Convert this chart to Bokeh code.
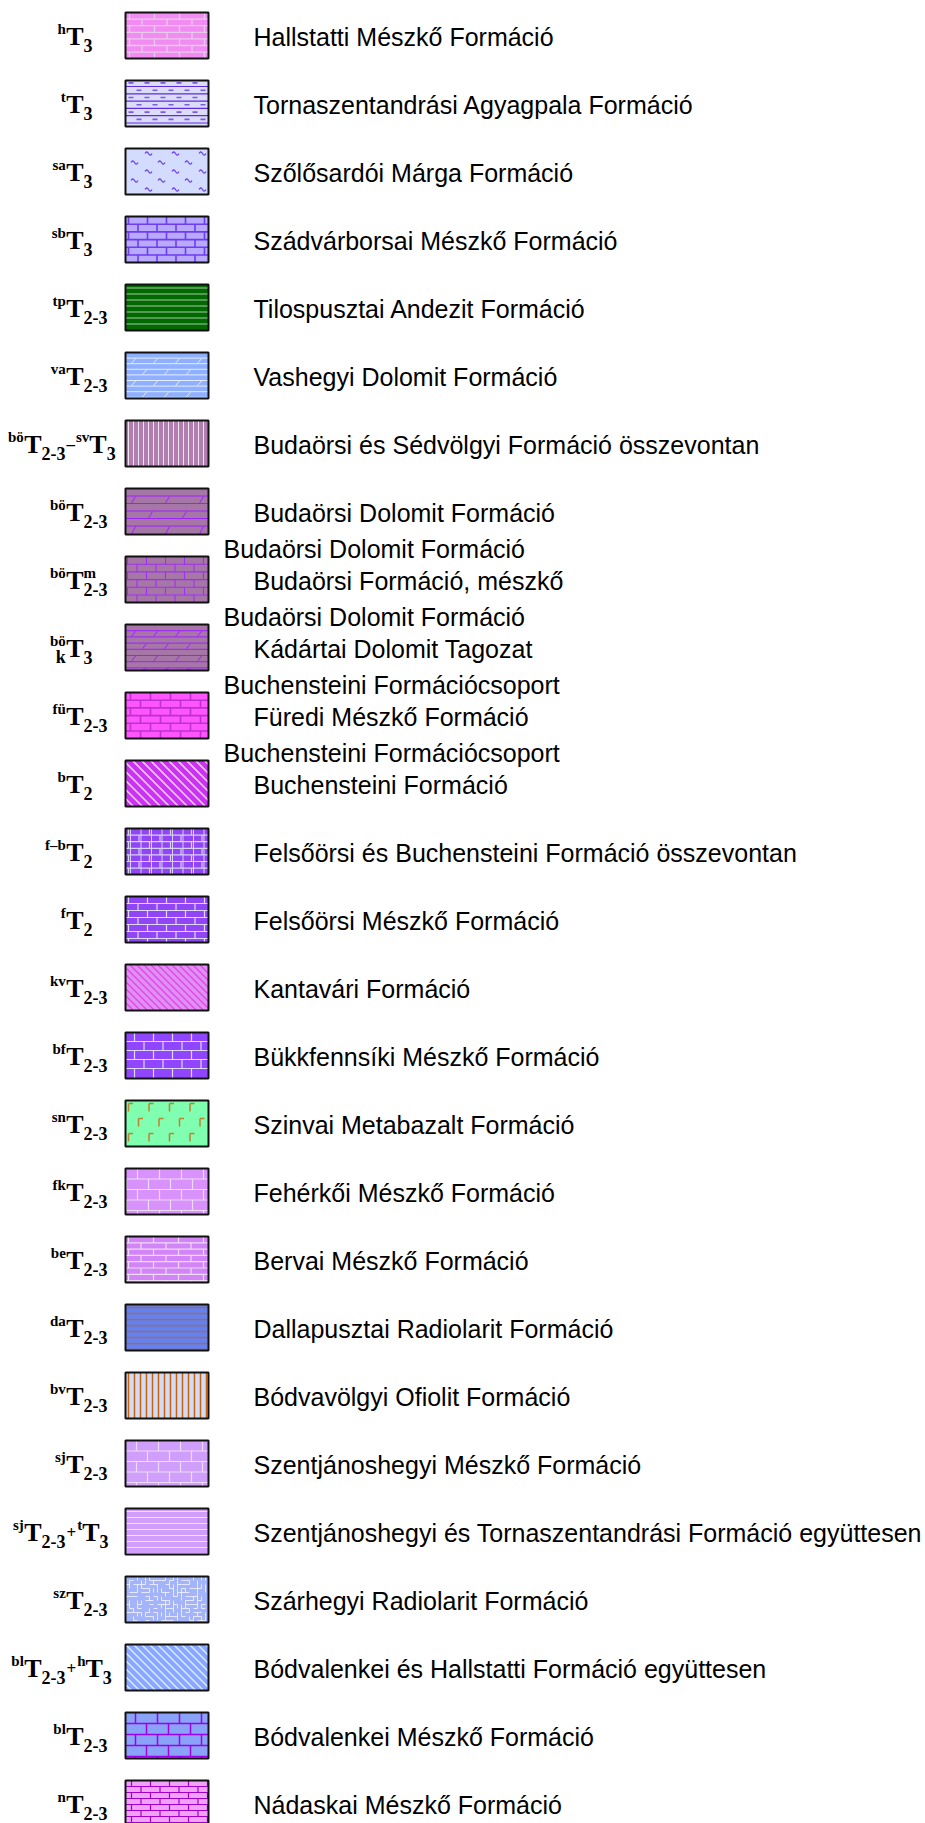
import math
from bokeh.plotting import figure
from bokeh.models import Range1d, ColumnDataSource
from bokeh.embed import file_html
from bokeh.resources import INLINE
from bokeh.core.properties import value

# ---------------- data ----------------
formation_names = [
    "Hallstatti Mészkő Formáció",
    "Tornaszentandrási Agyagpala Formáció",
    "Szőlősardói Márga Formáció",
    "Szádvárborsai Mészkő Formáció",
    "Tilospusztai Andezit Formáció",
    "Vashegyi Dolomit Formáció",
    "Budaörsi és Sédvölgyi Formáció összevontan",
    "Budaörsi Dolomit Formáció",
    "Budaörsi Formáció, mészkő",
    "Kádártai Dolomit Tagozat",
    "Füredi Mészkő Formáció",
    "Buchensteini Formáció",
    "Felsőörsi és Buchensteini Formáció összevontan",
    "Felsőörsi Mészkő Formáció",
    "Kantavári Formáció",
    "Bükkfennsíki Mészkő Formáció",
    "Szinvai Metabazalt Formáció",
    "Fehérkői Mészkő Formáció",
    "Bervai Mészkő Formáció",
    "Dallapusztai Radiolarit Formáció",
    "Bódvavölgyi Ofiolit Formáció",
    "Szentjánoshegyi Mészkő Formáció",
    "Szentjánoshegyi és Tornaszentandrási Formáció együttesen",
    "Szárhegyi Radiolarit Formáció",
    "Bódvalenkei és Hallstatti Formáció együttesen",
    "Bódvalenkei Mészkő Formáció",
    "Nádaskai Mészkő Formáció",
]

parent_units = [""] * 8 + [
    "Budaörsi Dolomit Formáció",
    "Budaörsi Dolomit Formáció",
    "Buchensteini Formációcsoport",
    "Buchensteini Formációcsoport",
] + [""] * 15

# symbol markup: blocks split by "|", stacked items by ",";  ^ sup, _ sub, ~ connector
symbols = [
    "^h|T|_3", "^t|T|_3", "^sa|T|_3", "^sb|T|_3",
    "^tp|T|_2-3", "^va|T|_2-3",
    "^bö|T|_2-3|~–|^sv|T|_3",
    "^bö|T|_2-3", "^bö|T|_2-3,^m", "^bö,_k|T|_3",
    "^fü|T|_2-3", "^b|T|_2", "^f–b|T|_2", "^f|T|_2",
    "^kv|T|_2-3", "^bf|T|_2-3", "^sn|T|_2-3", "^fk|T|_2-3",
    "^be|T|_2-3", "^da|T|_2-3", "^bv|T|_2-3", "^sj|T|_2-3",
    "^sj|T|_2-3|~+|^t|T|_3",
    "^sz|T|_2-3",
    "^bl|T|_2-3|~+|^h|T|_3",
    "^bl|T|_2-3", "^n|T|_2-3",
]

fill_colors = [
    "#f28cf2", "#dcdcfa", "#d3dcff", "#b9a9ff", "#006a00", "#8fb0ff",
    "#b07fb0", "#a676a6", "#a676a6", "#a676a6", "#ff55ff", "#cc33f0",
    "#9146f5", "#9146f5", "#e08ff2", "#9046ff", "#80ffb0", "#d991fb",
    "#d385f8", "#5f82f8", "#d1ddf8", "#d09efb", "#d09efb", "#a3b4fa",
    "#88a8ff", "#8aa2f8", "#f0a2f8",
]

pattern_kinds = [
    "brick", "shale", "marl", "rough_brick", "hline", "dolomite",
    "vline", "dolomite", "brick", "dolomite", "rough_brick", "diag",
    "brick_grid", "brick", "diag", "brick", "basalt", "brick",
    "brick", "hline", "vline", "brick", "hline", "crackle",
    "diag", "brick", "brick",
]

pattern_colors = [
    "#e6cbea", "#5a2ee0", "#6a3ae8", "#6d3df0", "#a8c8a8", "#e4ecff",
    "#f2e4f2", "#a020ff", "#a030f0", "#a020ff", "#c030d0", "#f0d0f8",
    "#d8d0f0", "#e0d8f8", "#e040e8", "#e0d8f8", "#c08030", "#ecdcf6",
    "#ecdcf6", "#b06a40", "#c8620c", "#ecdcf6", "#f0e0ff", "#eef0ff",
    "#e8eeff", "#a000e8", "#a000c8",
]

# ---------------- style / layout ----------------
pattern_style = {
    0: dict(row_h=6.6, bw=25, phase=4, lw=1.3),
    1: dict(step=7.3, lw=1.2),
    2: dict(lw=1.2),
    3: dict(row_h=7.7, bw=19, phase=3, lw=1.6),
    4: dict(step=6.0, start=3.5, lw=1.2),
    5: dict(row_h=5.6, tick=22, lw=1.0),
    6: dict(step=5.0, start=3, lw=1.0),
    7: dict(row_h=7.5, tick=34, lw=1.0),
    8: dict(row_h=7.7, bw=19, phase=2, lw=1.1),
    9: dict(row_h=6.2, tick=22, lw=1.0),
    10: dict(row_h=7.7, bw=20, phase=5, lw=1.6),
    11: dict(step=9.0, start=4, lw=1.6),
    12: dict(row_h=6.6, bw=21, phase=3, lw=1.2),
    13: dict(row_h=7.0, bw=19, phase=3, lw=1.2),
    14: dict(step=7.0, start=2, lw=1.1),
    15: dict(row_h=9.0, bw=19, phase=9, lw=1.2),
    16: dict(lw=1.5),
    17: dict(row_h=10.5, bw=22, phase=12, lw=1.2),
    18: dict(row_h=6.3, bw=25, phase=3, lw=1.2),
    19: dict(step=6.0, start=3, lw=1.3),
    20: dict(step=6.0, start=3, lw=1.5),
    21: dict(row_h=10.5, bw=22, phase=11, lw=1.2),
    22: dict(step=6.0, start=3, lw=1.1),
    23: dict(lw=0.9),
    24: dict(step=8.0, start=3, lw=1.2),
    25: dict(row_h=11.0, bw=22, phase=10, lw=1.5),
    26: dict(row_h=6.0, bw=19, phase=6, lw=1.2),
}

W, H = 925, 1823
ROW0, PITCH = 35.0, 68.0
BOX_L, BOX_R, BOX_HALF = 125.0, 208.0, 23.0
TEXT_X, PARENT_X = 253.0, 223.0

n = len(formation_names)
cy = [ROW0 + i * PITCH for i in range(n)]

p = figure(width=W, height=H, x_range=Range1d(0, W), y_range=Range1d(H, 0),
           output_backend="svg", toolbar_location=None, min_border=0,
           x_axis_location=None, y_axis_location=None)
p.grid.visible = False
p.outline_line_color = None
p.background_fill_color = "white"
p.border_fill_color = "white"

# ---------------- boxes fill ----------------
box_src = ColumnDataSource(dict(
    left=[BOX_L] * n, right=[BOX_R] * n,
    top=[c - BOX_HALF for c in cy], bottom=[c + BOX_HALF for c in cy],
    fill=fill_colors))
p.quad(left="left", right="right", top="top", bottom="bottom", source=box_src,
       fill_color="fill", line_color=None)

# ---------------- patterns ----------------
XS, YS, COL, LW = [], [], [], []


def add(xs, ys, color, lw):
    XS.append(list(xs)); YS.append(list(ys)); COL.append(color); LW.append(lw)


def hlines(b, step, start, color, lw):
    L, R, T, B = b
    y = T + start
    while y < B - 0.8:
        add([L, R], [y, y], color, lw)
        y += step


def vlines(b, step, start, color, lw):
    L, R, T, B = b
    x = L + start
    while x < R - 0.8:
        add([x, x], [T, B], color, lw)
        x += step


def diag(b, step, start, color, lw):
    L, R, T, B = b
    c = T - R + start
    while c < B - L:
        xa = max(L, T - c)
        xb = min(R, B - c)
        if xb - xa > 0.8:
            add([xa, xb], [xa + c, xb + c], color, lw)
        c += step


def bricks(b, row_h, bw, phase, color, lw):
    L, R, T, B = b
    edges = [T]
    y = T + row_h
    while y < B - 1:
        edges.append(y)
        add([L, R], [y, y], color, lw)
        y += row_h
    edges.append(B)
    for k in range(len(edges) - 1):
        off = phase + (bw / 2.0 if k % 2 else 0.0)
        x = L + (off % bw)
        while x < R - 0.8:
            if x > L + 0.8:
                add([x, x], [edges[k], edges[k + 1]], color, lw)
            x += bw


def dolomite(b, row_h, tick, color, lw):
    L, R, T, B = b
    edges = [T]
    y = T + row_h
    while y < B - 1:
        edges.append(y)
        add([L, R], [y, y], color, lw)
        y += row_h
    edges.append(B)
    for k in range(len(edges) - 1):
        if k % 2 == 0:
            continue
        off = 6 + ((k // 2) % 2) * tick / 2.0
        x = L + off
        y0, y1 = edges[k], edges[k + 1]
        while x + 4 < R:
            add([x, x + 4], [y1 - 0.5, y0 + 0.5], color, lw)
            x += tick


def shale(b, step, color, lw):
    L, R, T, B = b
    y = T + 6
    while y < B - 1:
        add([L, R], [y, y], color, lw)
        y += step
    y = T + 2.4
    k = 0
    while y < B - 1:
        x = L + 3 + (8 if k % 2 else 0)
        while x + 5 < R:
            add([x, x + 5], [y, y], "#7a5ae8", lw + 0.4)
            x += 16
        y += step
        k += 1


def marl(b, color, lw):
    L, R, T, B = b
    y = T + 5
    k = 0
    while y < B - 2:
        x = L + (9 if k % 2 == 0 else 22) - 13
        while x < R - 1:
            if x > L + 1:
                pts = [t * 0.5 for t in range(15)]
                xs = [min(R - 0.5, x - 3.5 + t) for t in pts]
                ys = [y - 1.6 * math.sin(t / 7.0 * 2 * math.pi) for t in pts]
                add(xs, ys, color, lw)
            x += 27
        y += 9
        k += 1


def basalt(b, color, lw):
    L, R, T, B = b
    y = T + 3
    k = 0
    while y < B:
        x = L + (3 if k % 2 == 0 else 13)
        while x < R - 1:
            y_end = min(B, y + 8)
            add([x, x], [y, y_end], color, lw)
            add([x, min(R, x + 4.5)], [y, y], color, lw)
            x += 20.5
        y += 15
        k += 1


def crackle(b, color, lw):
    L, R, T, B = b
    cell = 4.0
    nx = int((R - L) / cell)
    ny = int((B - T) / cell)
    for i in range(nx + 1):
        for j in range(ny + 1):
            x = L + i * cell
            y = T + j * cell
            h = ((i * 2654435761) ^ (j * 40503) ^ (i * j * 97)) % 7
            if h in (0, 2, 5) and x + cell <= R:
                add([x, x + cell], [y, y], color, lw)
            if h in (1, 2, 4) and y + cell <= B and x > L:
                add([x, x], [y, y + cell], color, lw)


for i in range(n):
    b = (BOX_L, BOX_R, cy[i] - BOX_HALF, cy[i] + BOX_HALF)
    kind, col, st = pattern_kinds[i], pattern_colors[i], pattern_style[i]
    if kind in ("brick", "rough_brick"):
        bricks(b, st["row_h"], st["bw"], st["phase"], col, st["lw"])
    elif kind == "brick_grid":
        bricks(b, st["row_h"], st["bw"], st["phase"], col, st["lw"])
        vlines(b, 10.5, 5, col, 1.0)
    elif kind == "hline":
        hlines(b, st["step"], st["start"], col, st["lw"])
    elif kind == "vline":
        vlines(b, st["step"], st["start"], col, st["lw"])
    elif kind == "diag":
        diag(b, st["step"], st["start"], col, st["lw"])
    elif kind == "dolomite":
        dolomite(b, st["row_h"], st["tick"], col, st["lw"])
    elif kind == "shale":
        shale(b, st["step"], col, st["lw"])
    elif kind == "marl":
        marl(b, col, st["lw"])
    elif kind == "basalt":
        basalt(b, col, st["lw"])
    elif kind == "crackle":
        crackle(b, col, st["lw"])

pat_src = ColumnDataSource(dict(xs=XS, ys=YS, color=COL, lw=LW))
p.multi_line(xs="xs", ys="ys", line_color="color", line_width="lw", source=pat_src)

# box outlines
p.quad(left="left", right="right", top="top", bottom="bottom", source=box_src,
       fill_color=None, line_color="#111111", line_width=2)

# ---------------- formation names ----------------
name_y, name_x, name_t = [], [], []
for i in range(n):
    name_x.append(TEXT_X); name_y.append(cy[i] + 1.5); name_t.append(formation_names[i])
    if parent_units[i]:
        name_x.append(PARENT_X); name_y.append(cy[i] - 31); name_t.append(parent_units[i])
p.text(x=name_x, y=name_y, text=name_t, text_font=value("Liberation Sans"),
       text_font_size="25px", text_color="black", text_align="left",
       text_baseline="middle")

# ---------------- stratigraphic symbols ----------------
SERIF_BOLD = {'a': .5, 'b': .556, 'd': .556, 'e': .444, 'f': .333, 'h': .556,
              'j': .333, 'k': .556, 'l': .278, 'm': .833, 'n': .556, 'o': .5,
              'ö': .5, 'p': .556, 'r': .444, 's': .389, 't': .333, 'u': .556,
              'ü': .556, 'v': .5, 'z': .444, 'T': .667, '-': .333, '–': .5,
              '+': .57}
ROLE_SIZE = {"^": 15, "_": 18, "T": 26, "~": 17}
ROLE_DY = {"^": -7, "_": 9.5, "T": 0.5, "~": 1}


def tw(s, size):
    return sum(SERIF_BOLD.get(c, .5) for c in s) * size


groups = {}


def put(role, text, x, y, align):
    key = (ROLE_SIZE[role], align)
    g = groups.setdefault(key, dict(x=[], y=[], text=[]))
    g["x"].append(x); g["y"].append(y); g["text"].append(text)


for i, sym in enumerate(symbols):
    blocks = []
    for blk in sym.split("|"):
        items = []
        for it in blk.split(","):
            if it == "T":
                items.append(("T", "T"))
            else:
                items.append((it[0], it[1:]))
        blocks.append(items)
    n_T = sum(1 for blk in blocks if blk[0][0] == "T")
    first_T = next(k for k, blk in enumerate(blocks) if blk[0][0] == "T")
    wT = tw("T", ROLE_SIZE["T"])
    T_right = 83.0 if n_T == 1 else 41.0
    T_left = T_right - wT
    cur = T_left - 0.3
    for blk in reversed(blocks[:first_T]):
        bw = max(tw(t, ROLE_SIZE[r]) for r, t in blk)
        for r, t in blk:
            put(r, t, cur, cy[i] + ROLE_DY[r], "right")
        cur -= bw
    put("T", "T", T_left, cy[i] + ROLE_DY["T"], "left")
    cur = T_right
    for blk in blocks[first_T + 1:]:
        r0 = blk[0][0]
        bw = max(tw(t, ROLE_SIZE[r]) for r, t in blk)
        if r0 == "~":
            cur += 1.0
            put("~", blk[0][1], cur, cy[i] + ROLE_DY["~"], "left")
            cur += bw + 1.0
        else:
            for r, t in blk:
                put(r, t, cur, cy[i] + ROLE_DY[r], "left")
            cur += bw

for (size, align), g in groups.items():
    p.text(x=g["x"], y=g["y"], text=g["text"], text_font=value("Liberation Serif"),
           text_font_style="bold", text_font_size=f"{size}px", text_color="black",
           text_align=align, text_baseline="middle")

open("out.html", "w").write(file_html(p, INLINE))
